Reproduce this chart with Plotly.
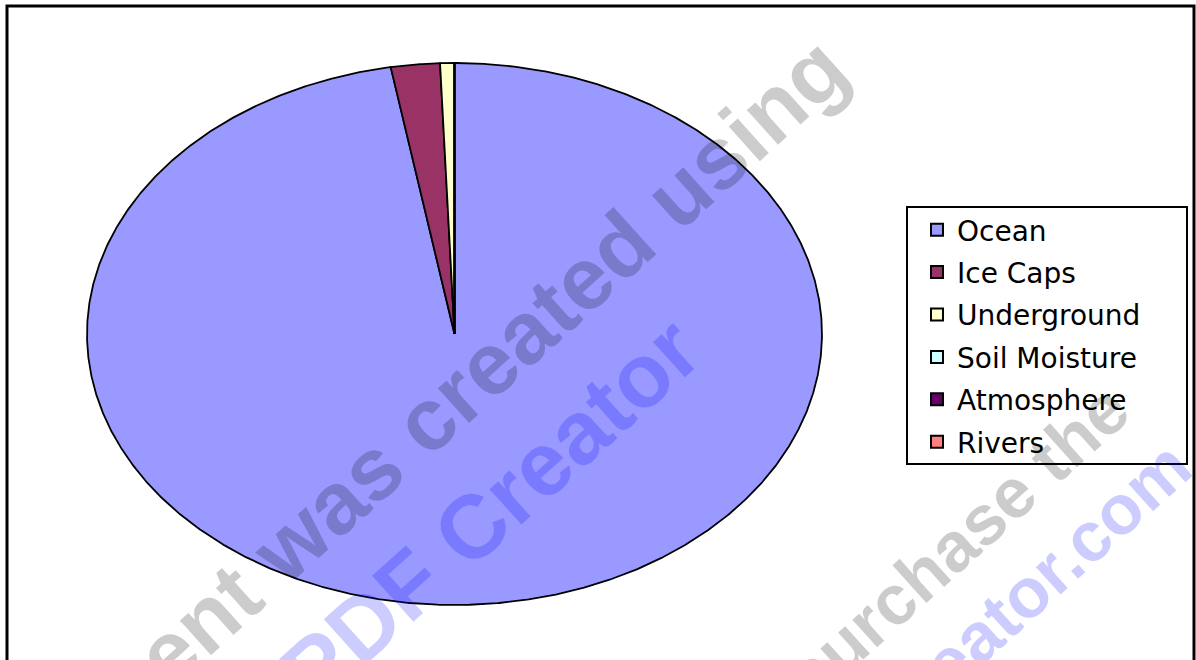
import numpy as np
import plotly.graph_objects as go

# ---- data ----
categories = ["Ocean", "Ice Caps", "Underground", "Soil Moisture", "Atmosphere", "Rivers"]
values = [97.2, 2.15, 0.62, 0.005, 0.001, 0.0001]
colors = ["#9999FF", "#993366", "#FFFFCC", "#CCFFFF", "#660066", "#FF8080"]

# watermark lines
wm_text = ["This document was created using", "PDF Creator",
           "purchase the", "pdfcreator.com"]
wm_color = ["rgba(0,0,0,0.2)", "rgba(0,0,255,0.2)",
            "rgba(0,0,0,0.2)", "rgba(0,0,255,0.2)"]
wm_size = [88, 90, 70, 70]
wm_cx = [307, 490, 956, 992]
wm_cy = [527, 511, 544, 624]

# ---- layout geometry ----
W, H = 1196, 660
cx, cy = 454.5, 334.0      # ellipse centre in px
rx, ry = 367.5, 271.0      # ellipse semi-axes in px
pad = 1.02

fig = go.Figure()

total = sum(values)
start = 90.0
for name, v, c in zip(categories, values, colors):
    sweep = 360.0 * v / total
    n = max(3, int(sweep * 3) + 3)
    ang = np.radians(np.linspace(start, start - sweep, n))
    xs = [0.0] + list(np.cos(ang)) + [0.0]
    ys = [0.0] + list(np.sin(ang)) + [0.0]
    fig.add_trace(go.Scatter(
        x=xs, y=ys, fill="toself", fillcolor=c, mode="lines",
        line=dict(color="black", width=1.8),
        showlegend=False, hoverinfo="text", text=name, name=name))
    start -= sweep

for name, c in zip(categories, colors):
    fig.add_trace(go.Scatter(
        x=[None], y=[None], mode="markers", name=name, legendgroup=name,
        marker=dict(symbol="square", size=18, color=c,
                    line=dict(color="black", width=1.5))))

x0 = (cx - rx * pad) / W
x1 = (cx + rx * pad) / W
y0 = 1 - (cy + ry * pad) / H
y1 = 1 - (cy - ry * pad) / H

annotations = []
for t, col, s, ax, ay in zip(wm_text, wm_color, wm_size, wm_cx, wm_cy):
    annotations.append(dict(
        text=t, x=ax / W, y=1 - ay / H, xref="paper", yref="paper",
        xanchor="center", yanchor="middle", showarrow=False, textangle=-42,
        font=dict(family="Liberation Sans", size=s, color=col, weight="bold")))

fig.update_layout(
    width=W, height=H,
    margin=dict(l=0, r=0, t=0, b=0),
    paper_bgcolor="white", plot_bgcolor="rgba(0,0,0,0)",
    xaxis=dict(domain=[x0, x1], range=[-pad, pad], visible=False, fixedrange=True),
    yaxis=dict(domain=[y0, y1], range=[-pad, pad], visible=False, fixedrange=True),
    showlegend=True,
    legend=dict(
        x=917 / W, y=1 - 205 / H, xanchor="left", yanchor="top",
        bgcolor="rgba(0,0,0,0)", borderwidth=0,
        font=dict(family="DejaVu Sans", size=28, color="black"),
        traceorder="grouped", tracegroupgap=3, itemsizing="constant"),
    shapes=[
        dict(type="rect", xref="paper", yref="paper",
             x0=7 / W, x1=1194 / W, y0=-0.05, y1=1 - 6 / H,
             line=dict(color="black", width=3), fillcolor="rgba(0,0,0,0)"),
        dict(type="rect", xref="paper", yref="paper", layer="above",
             x0=907 / W, x1=1187 / W, y0=1 - 464 / H, y1=1 - 207 / H,
             line=dict(color="black", width=2), fillcolor="white"),
    ],
    annotations=annotations,
)

fig.write_html("out.html", config={"displayModeBar": False},
               post_script="document.body.style.margin='0';")
